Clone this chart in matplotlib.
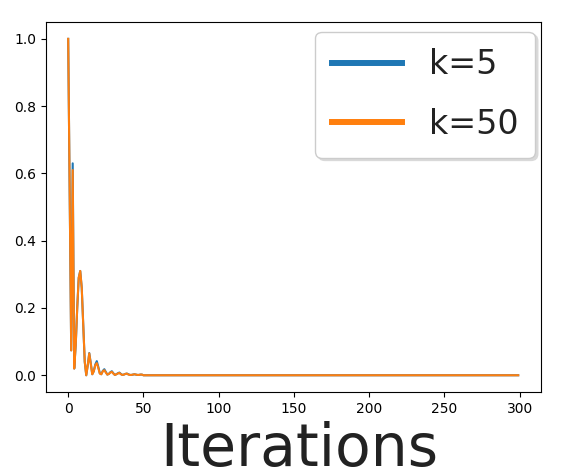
import numpy as np
import matplotlib
matplotlib.use('Agg')
from matplotlib import pyplot as plt

n_iter = 300
iterations = np.arange(n_iter)

# values for the first 50 iterations, then flat at zero
k5_head = [1.0, 0.55, 0.074, 0.63, 0.02, 0.09, 0.2, 0.29, 0.31, 0.26,
           0.15, 0.04, 0.0, 0.03, 0.066, 0.036, 0.003, 0.012, 0.032, 0.042,
           0.025, 0.006, 0.003, 0.013, 0.018, 0.01, 0.002, 0.004, 0.009, 0.012,
           0.006, 0.001, 0.003, 0.006, 0.008, 0.004, 0.001, 0.002, 0.004, 0.005,
           0.003, 0.001, 0.001, 0.002, 0.003, 0.002, 0.001, 0.001, 0.002, 0.002]
k50_head = [1.0, 0.55, 0.074, 0.61, 0.02, 0.09, 0.2, 0.29, 0.31, 0.26,
            0.15, 0.04, 0.0, 0.03, 0.065, 0.035, 0.003, 0.012, 0.03, 0.036,
            0.022, 0.005, 0.003, 0.012, 0.015, 0.008, 0.002, 0.004, 0.008, 0.01,
            0.005, 0.001, 0.003, 0.005, 0.007, 0.003, 0.001, 0.002, 0.004, 0.005,
            0.002, 0.001, 0.001, 0.002, 0.003, 0.002, 0.001, 0.001, 0.002, 0.002]
tail = [0.0] * (n_iter - len(k5_head))
k5 = k5_head + tail
k50 = k50_head + tail

labels = ['k=5', 'k=50']

fig = plt.figure(figsize=(5.74, 4.69), dpi=100)
ax = fig.add_axes([0.0796, 0.164, 0.8624, 0.789])

ax.plot(iterations, k5, label=labels[0])
ax.plot(iterations, k50, label=labels[1])

leg = ax.legend(loc='upper right', bbox_to_anchor=(0.9885, 0.974), borderaxespad=0,
                fontsize=24, handlelength=2.1, labelspacing=0.8, borderpad=0.5,
                shadow={'color': '0.85', 'alpha': 1.0})
for line in leg.get_lines():
    line.set_linewidth(4.3)
for txt in leg.get_texts():
    txt.set_color('#222222')

ax.set_xlabel('Iterations', fontsize=42, va='baseline', color='#222222')
ax.xaxis.set_label_coords(0.512, -0.2)

fig.savefig('out.png', dpi=100)
